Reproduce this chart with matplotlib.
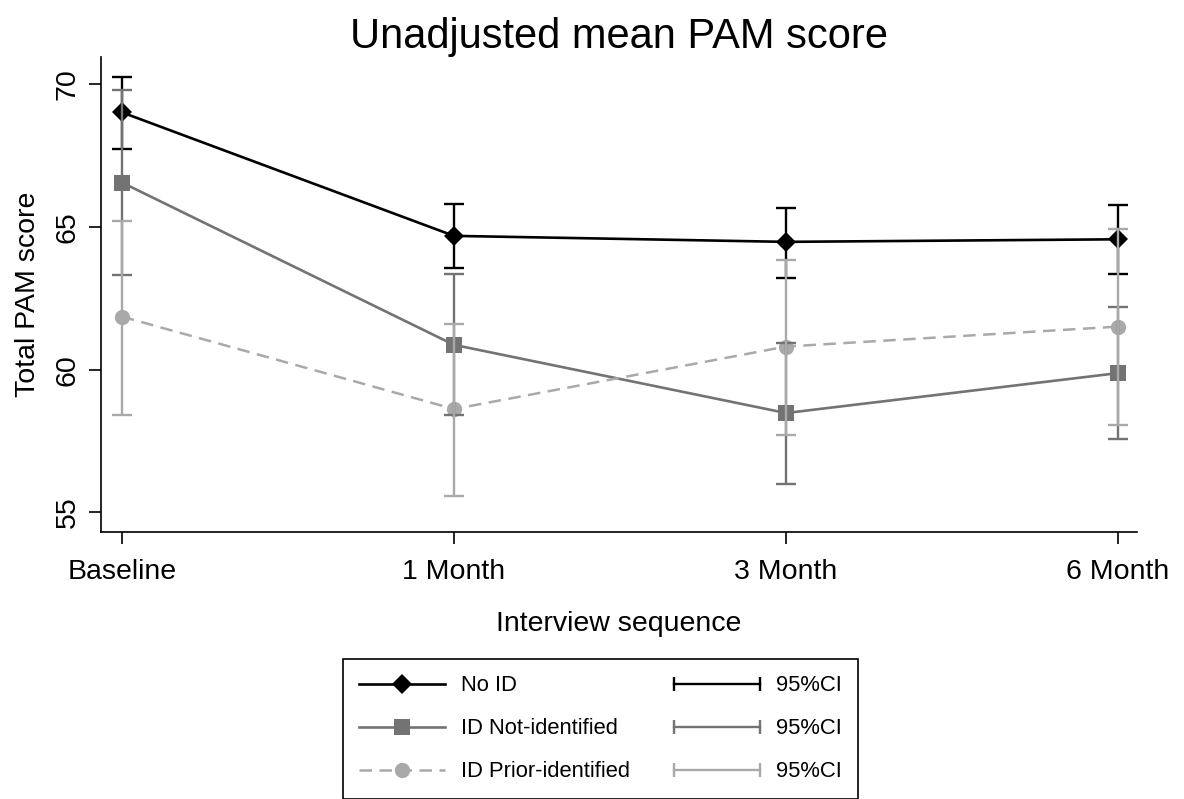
import numpy as np
import matplotlib
matplotlib.use('Agg')
import matplotlib.pyplot as plt
from matplotlib.lines import Line2D
from matplotlib.legend_handler import HandlerLine2D

plt.rcParams['font.family'] = ['Liberation Sans', 'DejaVu Sans']

visits = ['Baseline', '1 Month', '3 Month', '6 Month']

# mean PAM score and 95% CI per group
no_id_mean = [69.02, 64.69, 64.48, 64.57]
no_id_lo = [67.72, 63.58, 63.23, 63.35]
no_id_hi = [70.27, 65.81, 65.66, 65.77]

notid_mean = [66.56, 60.87, 58.48, 59.88]
notid_lo = [63.32, 58.42, 55.99, 57.57]
notid_hi = [69.80, 63.35, 60.95, 62.21]

prior_mean = [61.86, 58.62, 60.81, 61.51]
prior_lo = [58.42, 55.58, 57.72, 58.07]
prior_hi = [65.21, 61.61, 63.84, 64.92]

labels = ['No ID', 'ID Not-identified', 'ID Prior-identified']
colors = ['black', '#737373', '#a9a9a9']

fig = plt.figure(figsize=(11.84, 7.99), dpi=100)
ax = fig.add_axes([101/1184, 1 - 532/799, 1036/1184, 475/799])

x = np.arange(len(visits))

ax.plot(x, no_id_mean, color=colors[0], lw=1.9, marker='D', ms=9.8, mew=0, zorder=2)
ax.plot(x, notid_mean, color=colors[1], lw=1.9, marker='s', ms=11, mew=0, zorder=2)
ax.plot(x, prior_mean, color=colors[2], lw=1.8, marker='o', ms=11, mew=0,
        dashes=(5, 3), zorder=2)

for i, (m, lo, hi) in enumerate([(no_id_mean, no_id_lo, no_id_hi),
                                  (notid_mean, notid_lo, notid_hi),
                                  (prior_mean, prior_lo, prior_hi)]):
    m = np.array(m)
    err = [m - np.array(lo), np.array(hi) - m]
    ax.errorbar(x, m, yerr=err, fmt='none', ecolor=colors[i], elinewidth=1.7,
                capsize=7, capthick=1.7, zorder=3 + i)

ax.set_xlim(-0.063, 3.057)
ax.set_ylim(54.31, 70.96)
ax.set_xticks(x)
ax.set_xticklabels(visits)
ax.set_yticks([55, 60, 65, 70])
ax.spines['top'].set_visible(False)
ax.spines['right'].set_visible(False)
for s in ['left', 'bottom']:
    ax.spines[s].set_linewidth(1.2)
ax.tick_params(axis='both', direction='out', length=8.5, width=1.2, labelsize=20.5)
ax.tick_params(axis='x', pad=11)
ax.tick_params(axis='y', pad=6)
for t in ax.get_yticklabels():
    t.set_rotation(90)
    t.set_va('center')

ax.set_xlabel('Interview sequence', fontsize=20.5, labelpad=19)
ax.set_ylabel('Total PAM score', fontsize=20.5, labelpad=10)
ax.set_title('Unadjusted mean PAM score', fontsize=30, pad=3)

# legend: series in the first column, CI bars in the second
h_series = [
    Line2D([], [], color=colors[0], lw=1.9, marker='D', ms=9.8, mew=0),
    Line2D([], [], color=colors[1], lw=1.9, marker='s', ms=11, mew=0),
    Line2D([], [], color=colors[2], lw=1.8, marker='o', ms=11, mew=0, dashes=(5, 3)),
]
h_ci = [Line2D([], [], color=c, lw=1.7, marker='|', ms=10, mew=1.7) for c in colors]
hmap = {h: HandlerLine2D(numpoints=2, marker_pad=0) for h in h_ci}

leg = fig.legend(h_series + h_ci, labels + ['95%CI'] * 3, ncol=2,
                 loc='upper center', bbox_to_anchor=(600.5/1184, 1 - 659/799),
                 borderaxespad=0, fontsize=15.8, handlelength=3.9, handletextpad=0.75,
                 columnspacing=2.0, labelspacing=1.0, borderpad=0.75,
                 fancybox=False, framealpha=1, edgecolor='black',
                 handler_map=hmap)
leg.get_frame().set_linewidth(1.2)

fig.savefig('out.png', dpi=100)
